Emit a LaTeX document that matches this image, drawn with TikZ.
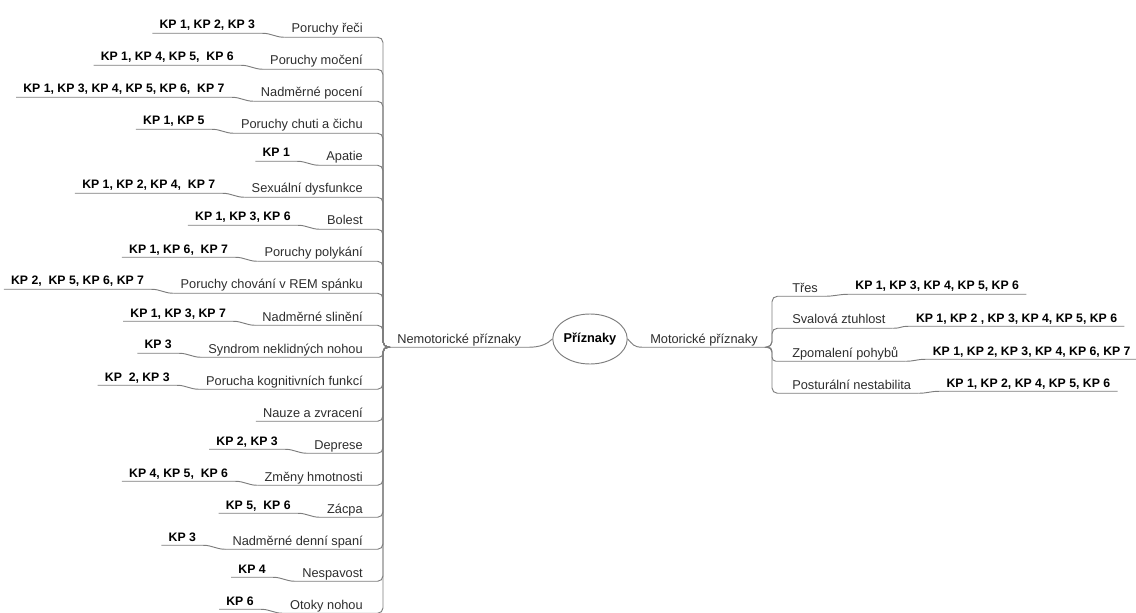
\documentclass[tikz,border=0pt]{standalone}
\usepackage{fontspec}
\setmainfont{Liberation Sans}
\usepackage{tikz}
\usetikzlibrary{shapes.geometric, positioning}
\definecolor{linegray}{RGB}{125, 125, 125}
\definecolor{textgray}{RGB}{45, 45, 45}

\begin{document}
\begin{tikzpicture}[x=0.75pt, y=-0.75pt,
  symptom/.style={inner xsep=5.25pt, inner ysep=0pt, text height=7pt, text depth=3pt, font=\fontsize{9.6}{11}\selectfont, text=textgray},
  kpbox/.style={inner xsep=5.25pt, inner ysep=0pt, text height=7pt, text depth=3pt, font=\fontsize{9.2}{11}\selectfont\bfseries},
  twig/.style={draw=linegray, line width=0.7pt},
  limb/.style={twig, rounded corners=4pt}]
  \useasboundingbox (0,0) rectangle (1136,613);

  % Central topic
  \node[draw=linegray, line width=0.7pt, ellipse, minimum width=55.5pt, minimum height=37.5pt, inner sep=0pt, font=\fontsize{9.6}{11}\selectfont\bfseries] (root) at (590,339) {Příznaky};

  % Main branches
  \node[symptom, anchor=base west] (nem) at (390,343) {Nemotorické příznaky};
  \node[symptom, anchor=base west] (mot) at (643,343) {Motorické příznaky};
  \draw[twig] (nem.south west) -- (nem.south east) .. controls +(12,0) and +(-5,5) .. (root.west);
  \draw[twig] (root.east) .. controls +(5,5) and +(-10,0) .. (mot.south west) -- (mot.south east);
  \coordinate (lt) at (383,347);
  \coordinate (rt) at (772,347);

  % Nonmotor symptoms
  \node[symptom, anchor=base east] (l0) at (370,33) {Poruchy řeči};
  \node[symptom, anchor=base east] (l1) at (370,65) {Poruchy močení};
  \node[symptom, anchor=base east] (l2) at (370,97) {Nadměrné pocení};
  \node[symptom, anchor=base east] (l3) at (370,129) {Poruchy chuti a čichu};
  \node[symptom, anchor=base east] (l4) at (370,161) {Apatie};
  \node[symptom, anchor=base east] (l5) at (370,193) {Sexuální dysfunkce};
  \node[symptom, anchor=base east] (l6) at (370,225) {Bolest};
  \node[symptom, anchor=base east] (l7) at (370,257) {Poruchy polykání};
  \node[symptom, anchor=base east] (l8) at (370,289) {Poruchy chování v REM spánku};
  \node[symptom, anchor=base east] (l9) at (370,321) {Nadměrné slinění};
  \node[symptom, anchor=base east] (l10) at (370,353) {Syndrom neklidných nohou};
  \node[symptom, anchor=base east] (l11) at (370,385) {Porucha kognitivních funkcí};
  \node[symptom, anchor=base east] (l12) at (370,417) {Nauze a zvracení};
  \node[symptom, anchor=base east] (l13) at (370,449) {Deprese};
  \node[symptom, anchor=base east] (l14) at (370,481) {Změny hmotnosti};
  \node[symptom, anchor=base east] (l15) at (370,513) {Zácpa};
  \node[symptom, anchor=base east] (l16) at (370,545) {Nadměrné denní spaní};
  \node[symptom, anchor=base east] (l17) at (370,577) {Nespavost};
  \node[symptom, anchor=base east] (l18) at (370,609) {Otoky nohou};

  \draw[limb] (l0.south west) -- (l0.south east) -| (lt) -- (nem.south west);
  \draw[limb] (l1.south west) -- (l1.south east) -| (lt) -- (nem.south west);
  \draw[limb] (l2.south west) -- (l2.south east) -| (lt) -- (nem.south west);
  \draw[limb] (l3.south west) -- (l3.south east) -| (lt) -- (nem.south west);
  \draw[limb] (l4.south west) -- (l4.south east) -| (lt) -- (nem.south west);
  \draw[limb] (l5.south west) -- (l5.south east) -| (lt) -- (nem.south west);
  \draw[limb] (l6.south west) -- (l6.south east) -| (lt) -- (nem.south west);
  \draw[limb] (l7.south west) -- (l7.south east) -| (lt) -- (nem.south west);
  \draw[limb] (l8.south west) -- (l8.south east) -| (lt) -- (nem.south west);
  \draw[limb] (l9.south west) -- (l9.south east) -| (lt) -- (nem.south west);
  \draw[limb, rounded corners=3pt] (l10.south west) -- (l10.south east) -| (lt) -- (nem.south west);
  \draw[limb] (l11.south west) -- (l11.south east) -| (lt) -- (nem.south west);
  \draw[limb] (l12.south west) -- (l12.south east) -| (lt) -- (nem.south west);
  \draw[limb] (l13.south west) -- (l13.south east) -| (lt) -- (nem.south west);
  \draw[limb] (l14.south west) -- (l14.south east) -| (lt) -- (nem.south west);
  \draw[limb] (l15.south west) -- (l15.south east) -| (lt) -- (nem.south west);
  \draw[limb] (l16.south west) -- (l16.south east) -| (lt) -- (nem.south west);
  \draw[limb] (l17.south west) -- (l17.south east) -| (lt) -- (nem.south west);
  \draw[limb] (l18.south west) -- (l18.south east) -| (lt) -- (nem.south west);

  % KP lists, nonmotor
  \node[kpbox, base left=16.5pt of l0, yshift=3pt] (k0) {KP 1, KP 2, KP 3};
  \node[kpbox, base left=16.5pt of l1, yshift=3pt] (k1) {KP 1, KP 4, KP 5, \ KP 6};
  \node[kpbox, base left=16.5pt of l2, yshift=3pt] (k2) {KP 1, KP 3, KP 4, KP 5, KP 6, \ KP 7};
  \node[kpbox, base left=16.5pt of l3, yshift=3pt] (k3) {KP 1, KP 5};
  \node[kpbox, base left=16.5pt of l4, yshift=3pt] (k4) {KP 1};
  \node[kpbox, base left=16.5pt of l5, yshift=3pt] (k5) {KP 1, KP 2, KP 4, \ KP 7};
  \node[kpbox, base left=16.5pt of l6, yshift=3pt] (k6) {KP 1, KP 3, KP 6};
  \node[kpbox, base left=16.5pt of l7, yshift=3pt] (k7) {KP 1, KP 6, \ KP 7};
  \node[kpbox, base left=16.5pt of l8, yshift=3pt] (k8) {KP 2, \ KP 5, KP 6, KP 7};
  \node[kpbox, base left=16.5pt of l9, yshift=3pt] (k9) {KP 1, KP 3, KP 7};
  \node[kpbox, base left=16.5pt of l10, yshift=3pt] (k10) {KP 3};
  \node[kpbox, base left=16.5pt of l11, yshift=3pt] (k11) {KP \ 2, KP 3};
  \node[kpbox, base left=16.5pt of l13, yshift=3pt] (k13) {KP 2, KP 3};
  \node[kpbox, base left=16.5pt of l14, yshift=3pt] (k14) {KP 4, KP 5, \ KP 6};
  \node[kpbox, base left=16.5pt of l15, yshift=3pt] (k15) {KP 5, \ KP 6};
  \node[kpbox, base left=16.5pt of l16, yshift=3pt] (k16) {KP 3};
  \node[kpbox, base left=16.5pt of l17, yshift=3pt] (k17) {KP 4};
  \node[kpbox, base left=16.5pt of l18, yshift=3pt] (k18) {KP 6};

  \draw[twig] (k0.south west) -- (k0.south east) .. controls +(9,0) and +(-9,0) .. (l0.south west);
  \draw[twig] (k1.south west) -- (k1.south east) .. controls +(9,0) and +(-9,0) .. (l1.south west);
  \draw[twig] (k2.south west) -- (k2.south east) .. controls +(9,0) and +(-9,0) .. (l2.south west);
  \draw[twig] (k3.south west) -- (k3.south east) .. controls +(9,0) and +(-9,0) .. (l3.south west);
  \draw[twig] (k4.south west) -- (k4.south east) .. controls +(9,0) and +(-9,0) .. (l4.south west);
  \draw[twig] (k5.south west) -- (k5.south east) .. controls +(9,0) and +(-9,0) .. (l5.south west);
  \draw[twig] (k6.south west) -- (k6.south east) .. controls +(9,0) and +(-9,0) .. (l6.south west);
  \draw[twig] (k7.south west) -- (k7.south east) .. controls +(9,0) and +(-9,0) .. (l7.south west);
  \draw[twig] (k8.south west) -- (k8.south east) .. controls +(9,0) and +(-9,0) .. (l8.south west);
  \draw[twig] (k9.south west) -- (k9.south east) .. controls +(9,0) and +(-9,0) .. (l9.south west);
  \draw[twig] (k10.south west) -- (k10.south east) .. controls +(9,0) and +(-9,0) .. (l10.south west);
  \draw[twig] (k11.south west) -- (k11.south east) .. controls +(9,0) and +(-9,0) .. (l11.south west);
  \draw[twig] (k13.south west) -- (k13.south east) .. controls +(9,0) and +(-9,0) .. (l13.south west);
  \draw[twig] (k14.south west) -- (k14.south east) .. controls +(9,0) and +(-9,0) .. (l14.south west);
  \draw[twig] (k15.south west) -- (k15.south east) .. controls +(9,0) and +(-9,0) .. (l15.south west);
  \draw[twig] (k16.south west) -- (k16.south east) .. controls +(9,0) and +(-9,0) .. (l16.south west);
  \draw[twig] (k17.south west) -- (k17.south east) .. controls +(9,0) and +(-9,0) .. (l17.south west);
  \draw[twig] (k18.south west) -- (k18.south east) .. controls +(9,0) and +(-9,0) .. (l18.south west);

  % Motor symptoms
  \node[symptom, anchor=base west] (r0) at (785,292) {Třes};
  \node[symptom, anchor=base west] (r1) at (785,324) {Svalová ztuhlost};
  \node[symptom, anchor=base west] (r2) at (785,357) {Zpomalení pohybů};
  \node[symptom, anchor=base west] (r3) at (785,389) {Posturální nestabilita};
  \draw[limb] (mot.south east) -- (rt) |- (r0.south west) -- (r0.south east);
  \draw[limb] (mot.south east) -- (rt) |- (r1.south west) -- (r1.south east);
  \draw[limb, rounded corners=3pt] (mot.south east) -- (rt) |- (r2.south west) -- (r2.south east);
  \draw[limb] (mot.south east) -- (rt) |- (r3.south west) -- (r3.south east);

  % KP lists, motor
  \node[kpbox, base right=17.25pt of r0, yshift=1.5pt] (q0) {KP 1, KP 3, KP 4, KP 5, KP 6};
  \node[kpbox, base right=12pt of r1, yshift=1.5pt] (q1) {KP 1, KP 2 , KP 3, KP 4, KP 5, KP 6};
  \node[kpbox, base right=15pt of r2, yshift=1.5pt] (q2) {KP 1, KP 2, KP 3, KP 4, KP 6, KP 7};
  \node[kpbox, base right=15.75pt of r3, yshift=1.5pt] (q3) {KP 1, KP 2, KP 4, KP 5, KP 6};
  \draw[twig] (r0.south east) .. controls +(9,0) and +(-9,0) .. (q0.south west) -- (q0.south east);
  \draw[twig] (r1.south east) .. controls +(9,0) and +(-9,0) .. (q1.south west) -- (q1.south east);
  \draw[twig] (r2.south east) .. controls +(9,0) and +(-9,0) .. (q2.south west) -- (q2.south east);
  \draw[twig] (r3.south east) .. controls +(9,0) and +(-9,0) .. (q3.south west) -- (q3.south east);
\end{tikzpicture}
\end{document}
